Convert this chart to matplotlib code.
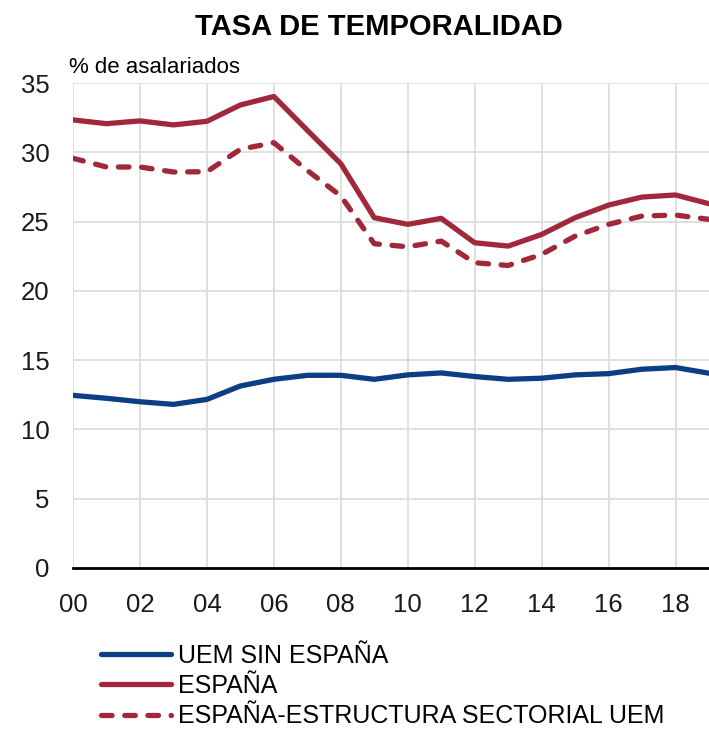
import matplotlib.pyplot as plt
import matplotlib.ticker as mticker

plt.rcParams['font.family'] = ['Liberation Sans', 'DejaVu Sans']

years = list(range(2000, 2020))

uem_sin_espana = [12.46, 12.25, 12.0, 11.81, 12.17, 13.14, 13.62, 13.91, 13.91, 13.62,
                  13.94, 14.08, 13.82, 13.62, 13.7, 13.94, 14.03, 14.35, 14.47, 14.06]
espana = [32.35, 32.08, 32.28, 31.99, 32.25, 33.43, 34.04, 31.6, 29.19, 25.29,
          24.81, 25.24, 23.48, 23.24, 24.08, 25.29, 26.2, 26.78, 26.93, 26.3]
espana_estructura = [29.58, 28.95, 28.95, 28.59, 28.61, 30.23, 30.71, 28.7, 26.86, 23.41,
                     23.19, 23.6, 22.04, 21.84, 22.64, 23.96, 24.81, 25.41, 25.48, 25.17]

labels = ['UEM SIN ESPAÑA', 'ESPAÑA', 'ESPAÑA-ESTRUCTURA SECTORIAL UEM']
x_ticks = list(range(2000, 2019, 2))
x_ticklabels = ['00', '02', '04', '06', '08', '10', '12', '14', '16', '18']

blue = '#0b3f83'
red = '#a0283a'

fig = plt.figure(figsize=(7.09, 7.30), dpi=100)
ax = fig.add_axes([0.103, 0.222, 0.897, 0.664])

ax.plot(years, uem_sin_espana, color=blue, lw=3.8, label=labels[0], solid_capstyle='round')
ax.plot(years, espana, color=red, lw=3.8, label=labels[1], solid_capstyle='round')
ax.plot(years, espana_estructura, color=red, lw=3.8, ls=(0, (2.0, 2.4)),
        label=labels[2], dash_capstyle='round')

ax.set_xlim(2000, 2019)
ax.set_ylim(0, 35)
ax.yaxis.set_major_locator(mticker.MultipleLocator(5))
ax.set_xticks(x_ticks)
ax.set_xticklabels(x_ticklabels)
ax.grid(True, color='#dddddd', lw=1.3)
ax.set_axisbelow(True)
for side in ['left', 'right', 'top']:
    ax.spines[side].set_visible(False)
ax.spines['bottom'].set_linewidth(2)
ax.spines['bottom'].set_zorder(5)
ax.tick_params(length=0, labelsize=18.5, colors='#1a1a1a')
ax.tick_params(axis='y', pad=17)
ax.tick_params(axis='x', pad=18)

fig.text(0.535, 0.963, 'TASA DE TEMPORALIDAD', ha='center', va='center',
         fontsize=21, fontweight='bold')
fig.text(0.098, 0.907, '% de asalariados', ha='left', va='center', fontsize=16)

fig.legend(loc='upper left', bbox_to_anchor=(0.143, 0.118), frameon=False,
           fontsize=18, handlelength=2.8, handletextpad=0.28, labelspacing=0.25,
           borderaxespad=0, borderpad=0)

fig.savefig('out.png', dpi=100)
